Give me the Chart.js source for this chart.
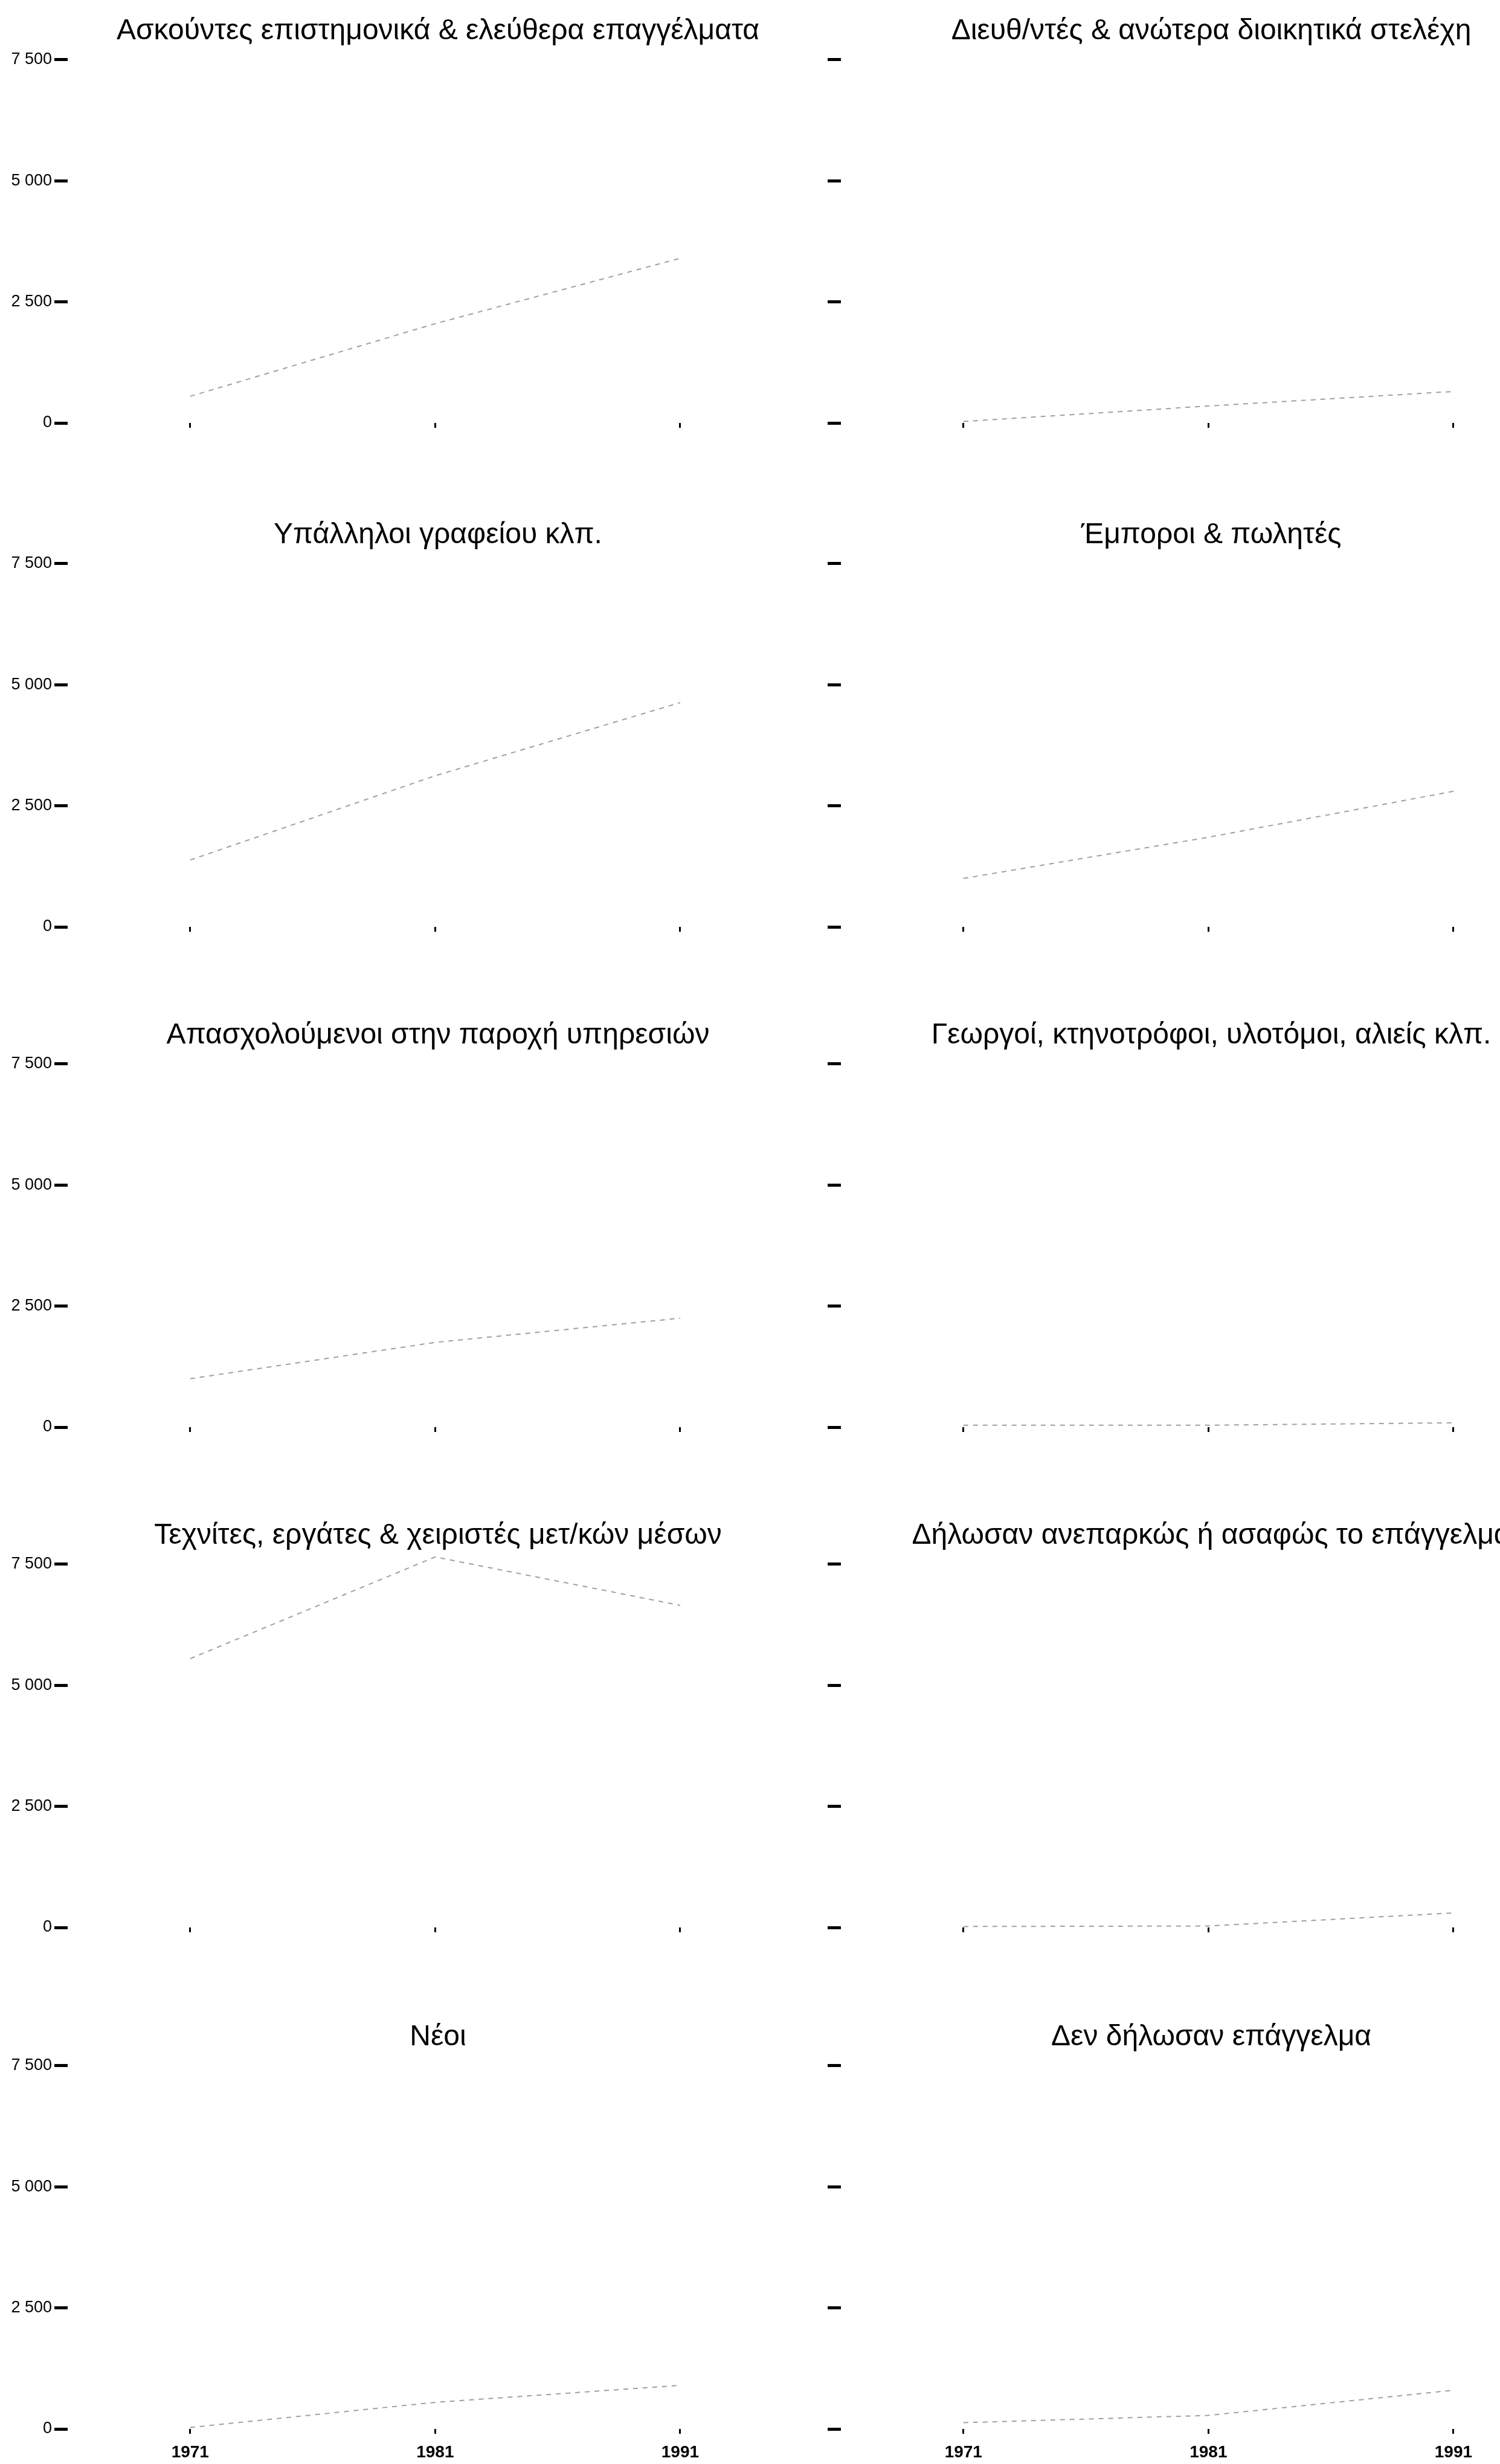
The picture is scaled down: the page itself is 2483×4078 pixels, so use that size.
<!DOCTYPE html>
<html>
<head>
<meta charset="utf-8">
<script src="https://cdn.jsdelivr.net/npm/chart.js@4/dist/chart.umd.min.js"></script>
<style>
  html, body { margin: 0; padding: 0; background: #fff; }
  body { width: 2483px; height: 4078px; overflow: hidden; position: relative; }
  canvas { position: absolute; }
</style>
</head>
<body>
<script>
// Απογραφές 1971-1991, απασχολούμενοι κατά επάγγελμα
const years = [1971, 1981, 1991];
const yTicks = [0, 2500, 5000, 7500];
const yTickLabels = ['0', '2 500', '5 000', '7 500'];

const titles = [
    'Ασκούντες επιστημονικά & ελεύθερα επαγγέλματα',
    'Διευθ/ντές & ανώτερα διοικητικά στελέχη',
    'Υπάλληλοι γραφείου κλπ.',
    'Έμποροι & πωλητές',
    'Απασχολούμενοι στην παροχή υπηρεσιών',
    'Γεωργοί, κτηνοτρόφοι, υλοτόμοι, αλιείς κλπ.',
    'Τεχνίτες, εργάτες & χειριστές μετ/κών μέσων',
    'Δήλωσαν ανεπαρκώς ή ασαφώς το επάγγελμα',
    'Νέοι',
    'Δεν δήλωσαν επάγγελμα'
];

const epistimonika = [550, 2050, 3400];
const dieuthyntes = [30, 350, 650];
const ypalliloi = [1380, 3120, 4630];
const emporoi = [1000, 1850, 2800];
const ypiresies = [1000, 1750, 2250];
const georgoi = [40, 40, 90];
const technites = [5550, 7650, 6650];
const asafos = [20, 30, 300];
const neoi = [30, 550, 900];
const denDilosan = [130, 280, 800];

const series = [epistimonika, dieuthyntes, ypalliloi, emporoi, ypiresies,
                georgoi, technites, asafos, neoi, denDilosan];

const rowTops = [0, 834, 1662, 2490, 3320];

function makePanel(i) {
    const row = Math.floor(i / 2);
    const col = i % 2;
    const last = row === rowTops.length - 1;

    const canvas = document.createElement('canvas');
    canvas.width = 1360;
    canvas.height = 760;
    canvas.style.left = (col === 0 ? 0 : 1290) + 'px';
    canvas.style.top = rowTops[row] + 'px';
    document.body.appendChild(canvas);

    new Chart(canvas, {
        type: 'line',
        data: {
            datasets: [{
                data: years.map((y, k) => ({ x: y, y: series[i][k] })),
                borderColor: '#a0a0a0',
                borderWidth: 2,
                borderDash: [8, 8],
                pointRadius: 0,
                tension: 0,
                clip: false
            }]
        },
        options: {
            responsive: false,
            animation: false,
            devicePixelRatio: 1,
            layout: { padding: { left: 0, right: col === 0 ? 22 : 32, top: 0, bottom: 0 } },
            plugins: {
                legend: { display: false },
                tooltip: { enabled: false },
                title: {
                    display: true,
                    text: titles[i],
                    fullSize: false,
                    color: '#000',
                    font: { family: 'Liberation Sans', size: 48, weight: 'normal', lineHeight: 1.2 },
                    padding: { top: 23, bottom: 0 }
                }
            },
            scales: {
                x: {
                    type: 'linear',
                    min: 1966,
                    max: 1996.23,
                    afterBuildTicks: s => { s.ticks = years.map(v => ({ value: v })); },
                    afterFit: s => { s.height = 60; },
                    border: { display: false },
                    grid: { drawOnChartArea: false, drawTicks: true, tickLength: 8, tickWidth: 3, tickColor: '#000' },
                    ticks: {
                        display: last,
                        color: '#000',
                        padding: 14,
                        maxRotation: 0,
                        font: { family: 'Liberation Sans', size: 28, weight: 'bold' },
                        callback: v => String(v)
                    }
                },
                y: {
                    min: 0,
                    max: 7727,
                    afterBuildTicks: s => { s.ticks = yTicks.map(v => ({ value: v })); },
                    afterFit: s => { s.width = col === 0 ? 112 : 102; },
                    border: { display: false },
                    grid: { drawOnChartArea: false, drawTicks: true, tickLength: 22, tickWidth: 5, tickColor: '#000' },
                    ticks: {
                        display: col === 0,
                        color: '#000',
                        padding: 4,
                        font: { family: 'Liberation Sans', size: 27 },
                        callback: (v, idx) => yTickLabels[idx]
                    }
                }
            }
        }
    });
}

for (let i = 0; i < titles.length; i++) makePanel(i);
</script>
</body>
</html>
